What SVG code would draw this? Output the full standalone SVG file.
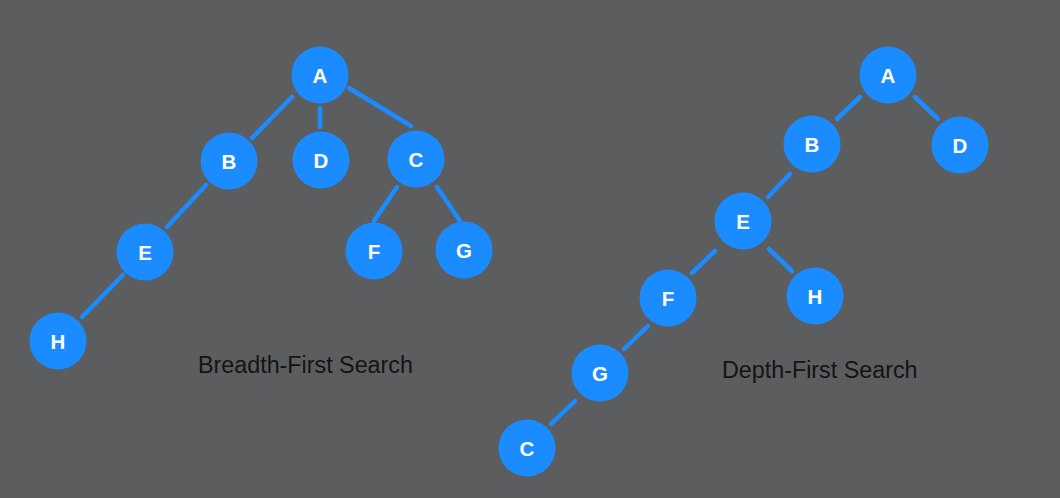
<svg xmlns="http://www.w3.org/2000/svg" width="1060" height="498" viewBox="0 0 1060 498">
<style>
.n circle{fill:#1a8cff;}
.n text{fill:#fff;font-family:"Liberation Sans",Arial,sans-serif;font-weight:bold;font-size:20.5px;text-anchor:middle;}
.e line{stroke:#1a8cff;stroke-width:4.5;stroke-linecap:round;}
.lbl{fill:#141414;font-family:"Liberation Sans",Arial,sans-serif;font-size:23.3px;}
</style>
<rect width="1060" height="498" fill="#5c5d5f"/>
<g id="connectors" class="e">
<line x1="292" y1="97" x2="252" y2="138"/>
<line x1="320" y1="108" x2="320" y2="127"/>
<line x1="349" y1="88" x2="411" y2="126"/>
<line x1="206" y1="185" x2="167" y2="227"/>
<line x1="123" y1="275" x2="82" y2="317"/>
<line x1="397" y1="187" x2="374" y2="221"/>
<line x1="437" y1="187" x2="460" y2="221"/>
<line x1="860" y1="97" x2="837" y2="119"/>
<line x1="915" y1="97" x2="938" y2="119"/>
<line x1="790" y1="174" x2="768" y2="197"/>
<line x1="715" y1="251" x2="692" y2="273"/>
<line x1="769" y1="249" x2="792" y2="271"/>
<line x1="648" y1="326" x2="624" y2="349"/>
<line x1="575" y1="401" x2="551" y2="424"/>
</g>
<g id="bfs-A" class="n"><circle cx="320" cy="75" r="28.5"/><text x="320" y="82.5">A</text></g>
<g id="bfs-B" class="n"><circle cx="229" cy="161" r="28.5"/><text x="229" y="168.5">B</text></g>
<g id="bfs-D" class="n"><circle cx="321" cy="160" r="28.5"/><text x="321" y="167.5">D</text></g>
<g id="bfs-C" class="n"><circle cx="416" cy="159" r="28.5"/><text x="416" y="166.5">C</text></g>
<g id="bfs-E" class="n"><circle cx="145" cy="252" r="28.5"/><text x="145" y="259.5">E</text></g>
<g id="bfs-F" class="n"><circle cx="374" cy="251" r="28.5"/><text x="374" y="258.5">F</text></g>
<g id="bfs-G" class="n"><circle cx="464" cy="250" r="28.5"/><text x="464" y="257.5">G</text></g>
<g id="bfs-H" class="n"><circle cx="58" cy="341" r="28.5"/><text x="58" y="348.5">H</text></g>
<g id="dfs-A" class="n"><circle cx="888" cy="75" r="28.5"/><text x="888" y="82.5">A</text></g>
<g id="dfs-B" class="n"><circle cx="812" cy="144" r="28.5"/><text x="812" y="151.5">B</text></g>
<g id="dfs-D" class="n"><circle cx="960" cy="145" r="28.5"/><text x="960" y="152.5">D</text></g>
<g id="dfs-E" class="n"><circle cx="743" cy="221" r="28.5"/><text x="743" y="228.5">E</text></g>
<g id="dfs-H" class="n"><circle cx="815" cy="296" r="28.5"/><text x="815" y="303.5">H</text></g>
<g id="dfs-F" class="n"><circle cx="668" cy="298" r="28.5"/><text x="668" y="305.5">F</text></g>
<g id="dfs-G" class="n"><circle cx="600" cy="373" r="28.5"/><text x="600" y="380.5">G</text></g>
<g id="dfs-C" class="n"><circle cx="527" cy="448" r="28.5"/><text x="527" y="455.5">C</text></g>
<text class="lbl" x="198" y="373">Breadth-First Search</text>
<text class="lbl" x="722" y="378">Depth-First Search</text>
</svg>
